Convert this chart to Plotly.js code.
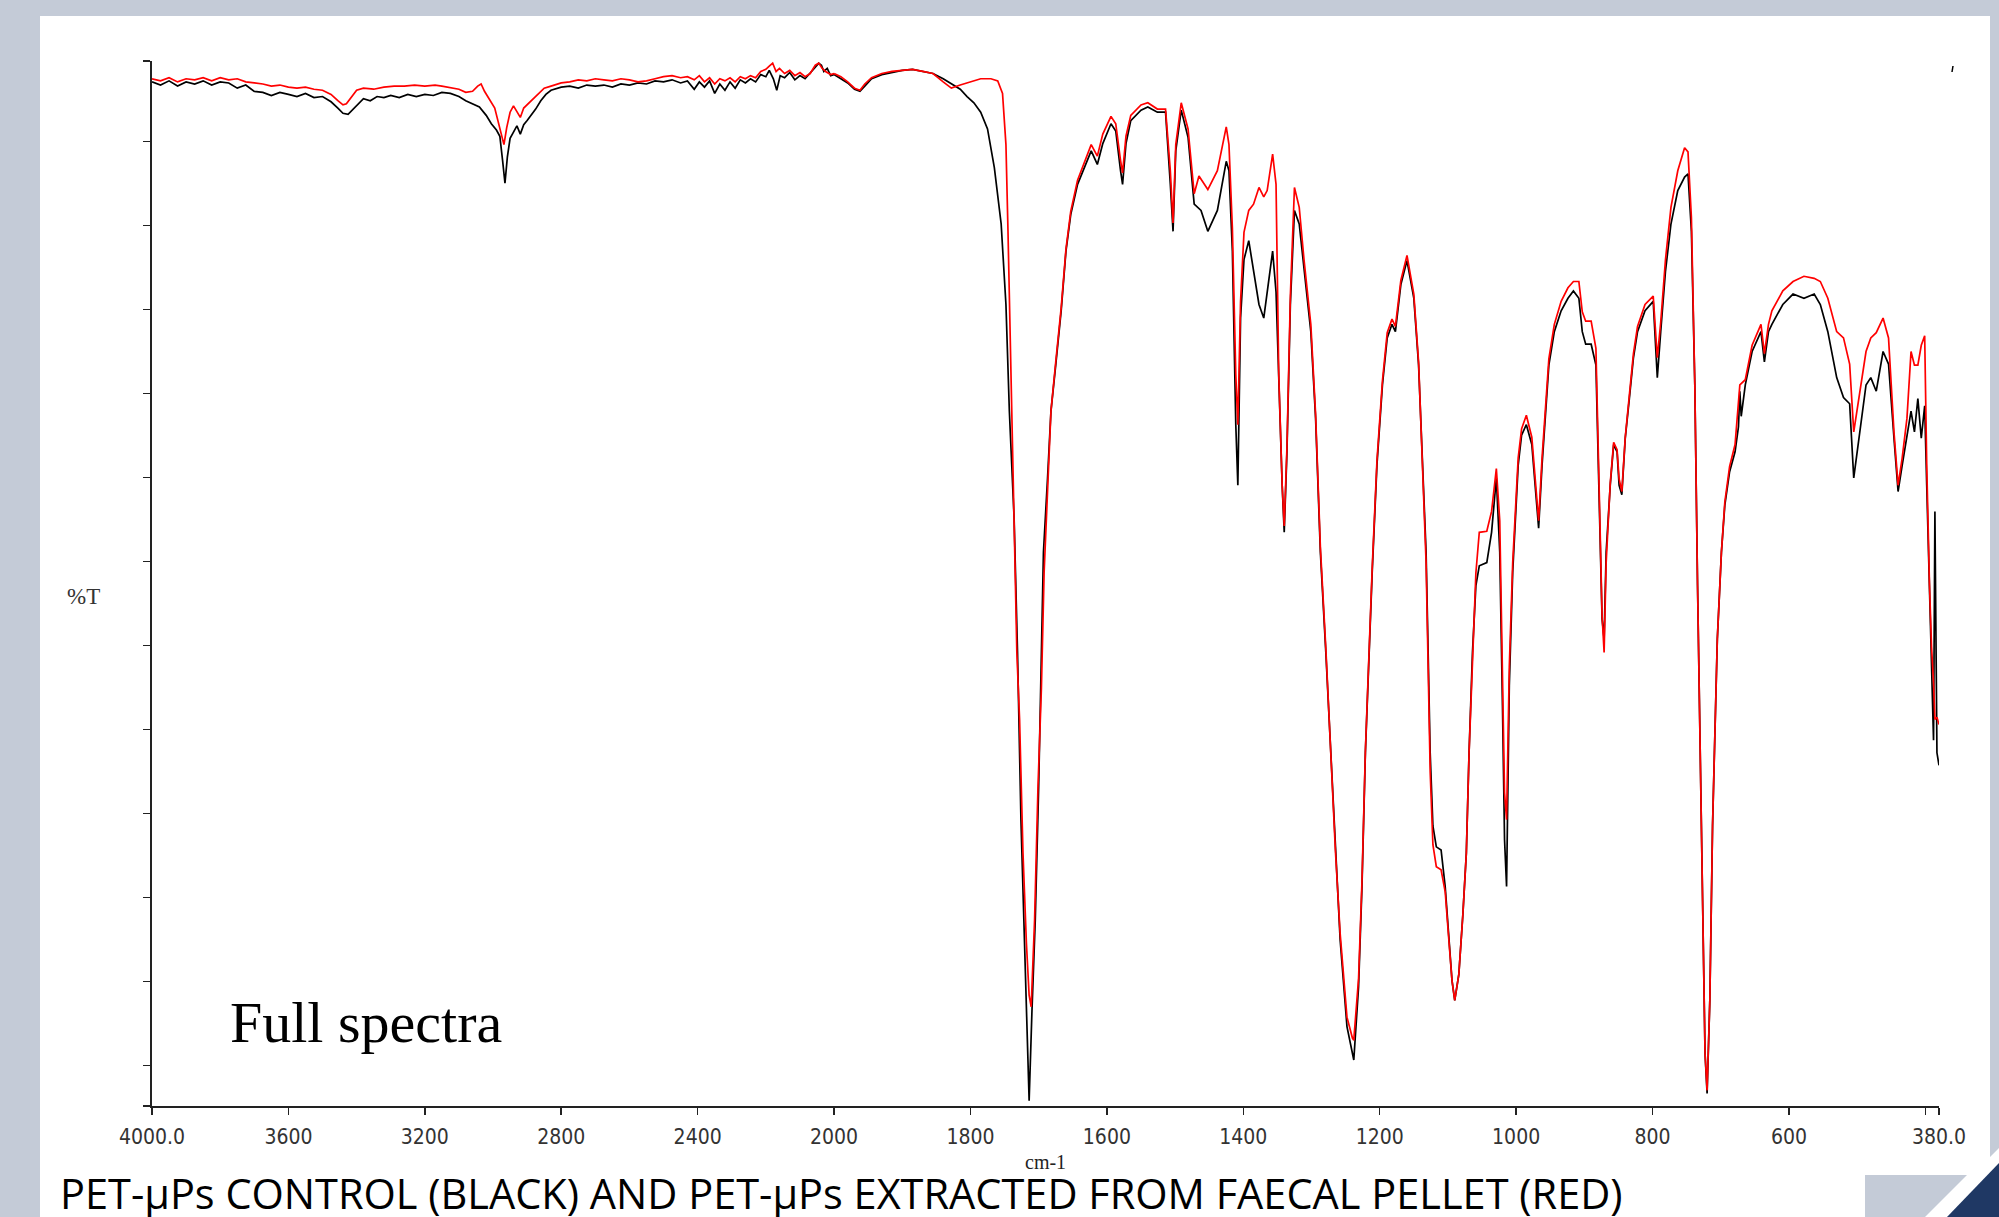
<!DOCTYPE html>
<html>
<head>
<meta charset="utf-8">
<script src="https://cdn.plot.ly/plotly-3.0.1.min.js"></script>
<style>html,body{margin:0;padding:0;background:#C4CBD7;}#chart{width:1999px;height:1217px;}</style>
</head>
<body>
<div id="chart"></div>
<script>
// ---------------- DATA ----------------
// Wavenumber (cm-1) and %T (relative, 0 = bottom of frame, 100 = top)
const blackWn = [4000,3975,3950,3925,3900,3875,3850,3825,3800,3775,3750,3725,3700,3675,3650,3625,3600,3575,3550,3525,3500,3475,3455,3440,3425,3410,3395,3380,3360,3340,3320,3300,3275,3250,3225,3200,3175,3150,3125,3100,3080,3060,3040,3020,3005,2990,2980,2972,2965,2958,2950,2940,2930,2920,2910,2900,2890,2875,2860,2845,2830,2800,2775,2750,2725,2700,2675,2650,2625,2600,2575,2550,2525,2500,2475,2450,2430,2410,2395,2380,2365,2350,2335,2320,2305,2290,2275,2260,2245,2230,2215,2200,2190,2178,2168,2158,2145,2130,2115,2100,2085,2070,2055,2045,2037,2030,2020,2010,2000,
1990,1980,1970,1962,1955,1945,1930,1915,1900,1885,1870,1855,1840,1828,1815,1805,1795,1785,1775,1765,1755,1748,1743,1736,1731,1726,1721,1717,1714,1710,1705,1700,1696,1693,1687,1682,1675,1667,1660,1653,1643,1633,1623,1614,1606,1594,1587,1580,1577,1572,1565,1550,1540,1526,1514,1507,1503,1499,1491,1481,1472,1462,1452,1438,1425,1421,1416,1411,1408,1404,1399,1392,1385,1377,1370,1365,1357,1352,1348,1343,1340,1336,1331,1325,1318,1311,1301,1294,1287,1279,1272,1265,1258,1248,1240,1238,1231,1226,1221,1216,1211,1204,1196,1189,1182,1177,1169,1160,1150,1143,1138,1132,1129,1126,1122,1117,1110,1104,1099,1094,1090,1084,1078,1073,1069,1064,1059,1054,1043,1036,1029,1024,1020,1017,1014,1010,1005,997,992,985,977,972,967,962,957,952,944,934,924,916,908,903,898,890,883,878,874,871,868,862,857,852,849,845,840,834,828,822,811,799,793,788,781,773,763,753,748,743,738,734,730,727,723,720,716,712,708,705,699,694,687,679,674,672,670,664,654,641,636,630,625,609,594,578,563,554,543,530,520,511,505,497,487,480,472,462,454,446,440,434,427,421,416,411,406,401,398,394,391,388,386,383,380];
const blackT = [98.0,97.7,98.1,97.6,98.0,97.8,98.1,97.7,98.0,97.9,97.4,97.7,97.1,97.0,96.7,97.0,96.8,96.6,96.9,96.5,96.6,96.1,95.5,95.0,94.9,95.4,96.0,96.4,96.2,96.6,96.5,96.7,96.5,96.8,96.6,96.8,96.7,97.0,96.9,96.6,96.2,95.9,95.6,94.8,94.0,93.4,92.8,90.5,88.3,90.8,92.6,93.2,93.8,93.0,93.9,94.3,94.7,95.4,96.2,96.8,97.2,97.5,97.6,97.4,97.7,97.6,97.7,97.5,97.8,97.7,97.9,97.8,98.1,98.0,98.2,97.9,98.1,97.3,98.0,97.5,98.1,96.9,97.8,97.2,98.0,97.4,98.2,97.9,98.3,98.0,98.7,98.5,99.1,98.3,97.2,98.6,98.4,98.9,98.2,98.6,98.3,98.8,99.4,99.8,99.6,99.0,99.3,98.6,98.7,
98.3,97.9,97.3,97.1,97.6,98.3,98.7,98.9,99.1,99.2,99.0,98.8,98.3,97.8,97.3,96.6,96.0,95.1,93.5,89.8,84.4,76.7,66.5,56.2,43.4,27.4,15.9,8.8,0.5,8.8,17.8,30.6,43.4,53.0,60.1,66.5,70.9,76.1,81.8,85.3,88.2,89.8,91.4,90.1,92.1,94.0,93.3,89.5,88.2,92.1,94.3,95.3,95.6,95.1,95.1,88.2,83.7,91.4,95.3,92.7,86.3,85.7,83.7,85.7,90.4,89.5,81.8,65.2,59.4,75.4,81.0,82.8,79.9,76.7,75.4,77.9,81.8,77.9,69.0,59.4,54.9,62.6,76.7,85.7,84.4,79.9,74.1,65.8,53.0,43.4,33.8,24.2,15.9,7.6,5.0,4.4,11.4,21.0,33.8,43.4,51.1,61.4,69.0,73.5,74.8,74.1,78.6,80.9,77.3,70.9,62.6,53.0,43.4,33.8,26.8,24.8,24.5,21.0,16.5,12.0,10.1,12.6,18.4,24.2,33.8,43.4,49.8,51.7,52.0,54.9,60.1,53.0,38.3,25.5,21.0,40.2,51.1,61.3,64.2,65.2,63.3,59.4,55.3,61.3,66.5,70.9,74.1,76.1,77.3,78.0,77.3,74.1,72.9,72.9,70.9,56.2,46.6,44.7,53.0,59.4,63.3,62.6,59.4,58.5,63.9,67.7,71.6,74.1,76.1,77.0,69.7,74.1,79.9,84.4,87.6,88.9,89.2,83.7,69.0,49.8,33.8,17.8,5.0,1.2,10.1,26.8,37.0,44.7,53.0,57.5,60.7,62.6,65.0,68.4,66.0,69.0,72.2,74.1,71.2,74.1,74.8,76.7,77.7,77.3,77.7,76.7,74.1,69.7,67.8,67.2,60.1,63.9,69.0,69.7,68.4,72.2,71.0,63.9,58.8,61.3,63.9,66.5,64.5,67.7,63.9,67.0,59.4,49.8,43.4,35.0,56.9,33.8,32.6];

const redWn = [4000,3975,3950,3925,3900,3875,3850,3825,3800,3775,3750,3725,3700,3675,3650,3625,3600,3575,3550,3525,3500,3475,3455,3440,3430,3415,3400,3380,3350,3320,3290,3260,3230,3200,3170,3150,3120,3100,3080,3060,3045,3035,3025,3010,2995,2985,2975,2968,2960,2950,2940,2930,2920,2910,2895,2880,2865,2850,2830,2800,2775,2750,2725,2700,2675,2650,2625,2600,2575,2550,2525,2500,2475,2450,2430,2410,2395,2380,2365,2350,2335,2320,2305,2290,2275,2260,2245,2230,2215,2200,2190,2180,2170,2160,2145,2130,2115,2100,2085,2070,2055,2045,2035,2025,2010,2000,
1990,1980,1970,1962,1955,1945,1930,1915,1900,1885,1870,1855,1840,1828,1815,1800,1785,1770,1760,1753,1748,1745,1740,1736,1732,1728,1723,1718,1714,1711,1706,1701,1696,1692,1687,1682,1675,1667,1660,1653,1643,1633,1623,1614,1606,1594,1587,1580,1577,1572,1565,1550,1540,1526,1514,1507,1503,1499,1491,1481,1472,1465,1462,1452,1438,1425,1421,1416,1411,1408,1404,1399,1392,1385,1377,1370,1365,1357,1352,1348,1343,1340,1336,1331,1325,1318,1311,1301,1294,1287,1279,1272,1265,1258,1248,1240,1238,1231,1226,1221,1216,1211,1204,1196,1189,1182,1177,1169,1160,1150,1143,1138,1132,1129,1126,1122,1117,1110,1104,1099,1094,1090,1084,1078,1073,1069,1064,1059,1054,1043,1036,1029,1024,1020,1017,1014,1010,1005,997,992,985,977,972,967,962,957,952,944,934,924,916,908,903,898,890,883,878,874,871,868,862,857,852,849,845,840,834,828,822,811,799,793,788,781,773,763,753,748,743,738,734,730,727,723,720,716,712,708,705,699,694,687,679,672,664,654,641,636,630,625,609,594,578,563,554,543,530,520,511,505,497,487,480,472,462,454,446,440,434,427,421,416,411,406,401,398,394,391,388,386,383,380];
const redT = [98.3,98.1,98.4,98.0,98.3,98.2,98.4,98.1,98.4,98.2,98.3,98.0,97.9,97.8,97.6,97.7,97.5,97.4,97.5,97.3,97.2,96.8,96.2,95.8,95.9,96.6,97.2,97.4,97.3,97.5,97.6,97.6,97.7,97.6,97.7,97.6,97.4,97.3,97.0,97.1,97.6,97.8,97.1,96.3,95.5,94.2,92.9,92.0,93.6,95.1,95.7,95.2,94.6,95.5,96.0,96.4,97.0,97.4,97.6,97.9,98.0,98.2,98.1,98.3,98.2,98.1,98.3,98.2,98.0,98.1,98.3,98.5,98.6,98.4,98.5,98.2,98.6,98.0,98.4,97.8,98.3,98.1,98.4,98.0,98.5,98.3,98.6,98.4,99.0,99.2,99.5,99.8,99.0,99.3,98.8,99.1,98.6,98.9,98.5,98.8,99.6,99.8,99.3,99.0,98.7,98.8,
98.5,98.0,97.4,97.2,97.8,98.4,98.8,99.0,99.1,99.2,99.0,98.8,98.0,97.4,97.7,98.0,98.3,98.3,98.1,96.9,92.0,83.7,69.0,56.2,43.4,37.0,24.2,15.6,10.6,9.5,17.8,30.6,40.0,51.1,59.0,66.5,71.2,76.4,82.0,85.6,88.6,90.3,92.0,90.9,93.0,94.7,94.0,90.5,89.3,92.8,94.8,95.8,96.0,95.4,95.4,89.5,84.5,92.0,96.0,93.5,87.3,89.0,88.7,87.7,89.5,93.7,92.0,84.0,70.0,65.2,77.0,83.6,85.7,86.3,87.9,87.0,87.6,91.1,88.2,70.0,59.4,55.5,63.0,77.5,87.9,86.0,81.0,74.8,66.2,53.5,43.8,34.0,24.5,16.5,8.5,6.5,6.3,12.2,21.5,34.0,43.8,51.5,61.8,69.4,74.0,75.3,74.6,79.0,81.4,77.7,71.2,62.0,52.0,42.0,32.0,25.0,22.9,22.6,20.5,16.2,12.0,10.1,12.6,18.4,24.2,33.8,43.4,51.0,54.9,55.0,56.9,61.0,56.0,42.0,30.0,27.4,42.0,52.0,62.0,64.8,66.1,64.0,60.0,56.0,62.0,67.0,71.5,74.8,77.0,78.3,78.9,78.9,76.0,75.1,75.1,72.5,57.0,47.0,43.4,52.0,59.6,63.5,62.8,60.0,58.8,64.0,68.0,72.0,74.6,76.7,77.5,71.6,75.0,81.0,86.0,89.5,91.7,91.3,85.0,69.0,49.8,33.8,17.8,5.0,1.5,10.1,26.8,37.0,44.7,53.0,57.8,61.2,63.3,69.0,69.5,72.8,74.8,72.0,74.8,76.1,78.0,78.9,79.4,79.2,78.9,77.3,74.1,73.5,71.0,64.5,68.0,72.2,73.5,74.0,75.4,73.5,64.5,59.4,62.0,65.8,72.2,70.9,70.9,72.8,73.7,61.4,50.0,44.0,40.5,37.0,37.2,36.5];

// axis ticks (split-scale IR axis: 400 cm-1 per division above 2000, 200 below)
const xTicksHigh = [4000,3600,3200,2800,2400,2000];
const xLabelsHigh = ['4000.0','3600','3200','2800','2400','2000'];
const xTicksLow = [1800,1600,1400,1200,1000,800,600,400,380];
const xLabelsLow = ['1800','1600','1400','1200','1000','800','600','','380.0'];
const yTicks = [0,3.88,11.92,19.96,28.00,36.04,44.08,52.12,60.16,68.20,76.24,84.28,92.32,100];

const captionText = 'PET-µPs CONTROL (BLACK) AND PET-µPs EXTRACTED FROM FAECAL PELLET (RED)';
const panelText = 'Full spectra';
const xTitle = 'cm-1';
const yTitle = '%T';

// ---------------- LAYOUT HELPERS ----------------
const W = 1999, H = 1217;
const M = {l:152, r:60, t:61, b:111};
const PW = W - M.l - M.r, PH = H - M.t - M.b;
const px = x => (x - M.l) / PW;
const py = y => (H - M.b - y) / PH;
const pathOf = pts => 'M' + pts.map(p => px(p[0]).toFixed(5) + ',' + py(p[1]).toFixed(5)).join(' L') + ' Z';

const split = 2000 / (2000 + 2 * (2000 - 380));

function part(wn, t, hi) {
  const xs = [], ys = [];
  for (let i = 0; i < wn.length; i++) {
    if (hi ? wn[i] >= 2000 : wn[i] <= 2000) { xs.push(wn[i]); ys.push(t[i]); }
  }
  return {x: xs, y: ys};
}

const traces = [];
[[blackWn, blackT, '#000000', 'PET-µPs control'], [redWn, redT, '#FF0000', 'PET-µPs from faecal pellet']].forEach(([wn, t, c, name]) => {
  const a = part(wn, t, true), b = part(wn, t, false);
  traces.push({x: a.x, y: a.y, xaxis: 'x', yaxis: 'y', type: 'scatter', mode: 'lines', line: {color: c, width: 1.7}, name: name, showlegend: false, hoverinfo: 'x+y'});
  traces.push({x: b.x, y: b.y, xaxis: 'x2', yaxis: 'y', type: 'scatter', mode: 'lines', line: {color: c, width: 1.7}, name: name, showlegend: false, hoverinfo: 'x+y'});
});

const tickFont = {family: '"Liberation Sans Narrow", "DejaVu Sans Condensed", "Liberation Sans", Arial, sans-serif', size: 21, color: '#333333'};
const xCommon = {
  showgrid: false, zeroline: false, showline: true, linecolor: '#222222', linewidth: 1.6,
  ticks: 'outside', ticklen: 7, tickwidth: 1.5, tickcolor: '#222222',
  tickfont: tickFont, tickmode: 'array', anchor: 'y', fixedrange: true, ticklabelstandoff: 4
};

const layout = {
  width: W, height: H,
  margin: M,
  paper_bgcolor: '#C4CBD7',
  plot_bgcolor: 'rgba(0,0,0,0)',
  showlegend: false,
  xaxis: Object.assign({}, xCommon, {domain: [0, split], range: [4000, 2000], tickvals: xTicksHigh, ticktext: xLabelsHigh}),
  xaxis2: Object.assign({}, xCommon, {domain: [split, 1], range: [2000, 380], tickvals: xTicksLow, ticktext: xLabelsLow}),
  yaxis: {
    range: [0, 100], showgrid: false, zeroline: false, showline: true, linecolor: '#222222', linewidth: 1.6,
    ticks: 'outside', ticklen: 7, tickwidth: 1.5, tickcolor: '#222222', tickmode: 'array', tickvals: yTicks,
    showticklabels: false, fixedrange: true
  },
  shapes: [
    {type: 'path', xref: 'paper', yref: 'paper', layer: 'below', line: {width: 0}, fillcolor: '#FFFFFF',
      path: pathOf([[40,16],[1990,16],[1990,1157],[1999,1148],[1999,1217],[40,1217]])},
    {type: 'path', xref: 'paper', yref: 'paper', layer: 'above', line: {width: 0}, fillcolor: '#C4CBD7',
      path: pathOf([[1865,1175],[1967,1175],[1925,1217],[1865,1217]])},
    {type: 'path', xref: 'paper', yref: 'paper', layer: 'above', line: {width: 0}, fillcolor: '#1F3864',
      path: pathOf([[1999,1163],[1947,1217],[1999,1217]])},
    {type: 'line', xref: 'paper', yref: 'paper', line: {color: '#000000', width: 1.5},
      x0: px(1953), y0: py(66), x1: px(1952), y1: py(72)}
  ],
  annotations: [
    {text: panelText, xref: 'paper', yref: 'paper', x: px(228), y: py(1022), xanchor: 'left', yanchor: 'middle', showarrow: false,
      font: {family: '"Liberation Serif", "Times New Roman", serif', size: 58, color: '#000000'}},
    {text: xTitle, xref: 'paper', yref: 'paper', x: px(1045), y: py(1162), xanchor: 'center', yanchor: 'middle', showarrow: false,
      font: {family: '"Liberation Serif", "Times New Roman", serif', size: 20, color: '#222222'}},
    {text: yTitle, xref: 'paper', yref: 'paper', x: px(83), y: py(596), xanchor: 'center', yanchor: 'middle', showarrow: false,
      font: {family: '"Liberation Serif", "Times New Roman", serif', size: 23, color: '#333333'}},
    {text: captionText, xref: 'paper', yref: 'paper', x: px(58), y: py(1193), xanchor: 'left', yanchor: 'middle', showarrow: false,
      font: {family: '"Open Sans", "Noto Sans", sans-serif', size: 41.5, color: '#000000'}}
  ]
};

Plotly.newPlot('chart', traces, layout, {staticPlot: true, displayModeBar: false});
</script>
</body>
</html>
